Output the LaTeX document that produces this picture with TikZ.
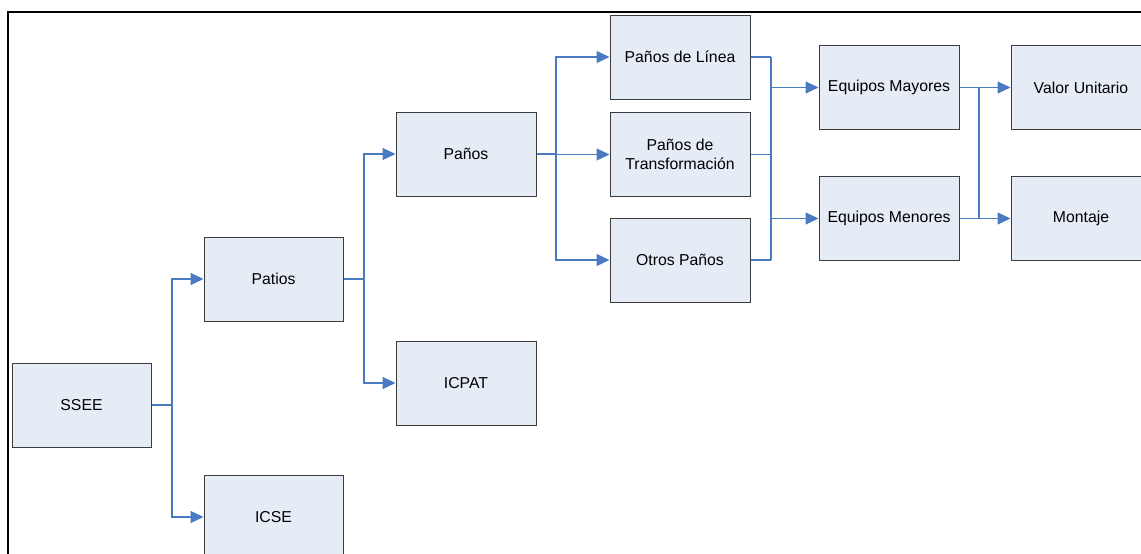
\documentclass[tikz,border=0pt]{standalone}
\usepackage{fontspec}
\setmainfont{Liberation Sans}
\usetikzlibrary{arrows.meta}
\definecolor{boxfill}{RGB}{230,236,246}
\definecolor{boxline}{RGB}{60,60,60}
\definecolor{conncol}{RGB}{74,122,194}
\begin{document}
\begin{tikzpicture}[x=1pt,y=-1pt,
  box/.style={draw=boxline,fill=boxfill,line width=1pt,minimum width=139pt,minimum height=84pt,inner sep=0pt,align=center,font=\fontsize{15.8}{19}\selectfont},
  link/.style={draw=conncol,line width=1.2pt},
  arr/.style={link,-{Triangle[length=13pt,width=12pt]}}]
\useasboundingbox (0,0) rectangle (1141,554);
\clip (0,0) rectangle (1141,554);
\draw[line width=2pt] (8,554) -- (8,12) -- (1141,12);
% nodes
\node[box] (ssee) at (81.5,405) {SSEE};
\node[box] (patios) at (273.5,279) {Patios};
\node[box] (icse) at (273.5,517) {ICSE};
\node[box,minimum width=140pt] (panos) at (466,154) {Paños};
\node[box,minimum width=140pt] (icpat) at (466,383) {ICPAT};
\node[box,minimum width=140pt] (pl) at (680,57) {Paños de Línea};
\node[box,minimum width=140pt] (pt) at (680,154.5) {Paños de\\Transformación};
\node[box,minimum width=140pt] (op) at (680,260) {Otros Paños};
\node[box,minimum width=140pt] (emay) at (889,87.5) {Equipos Mayores};
\node[box,minimum width=140pt] (emen) at (889,218.5) {Equipos Menores};
\node[box,minimum width=140pt] (vu) at (1081,87.5) {Valor Unitario};
\node[box,minimum width=140pt] (mon) at (1081,218.5) {Montaje};
% buses
\coordinate (b1) at (172,405);
\coordinate (b2) at (364,279);
\coordinate (b3) at (556,154);
\coordinate (b4) at (771,0);
\coordinate (b5) at (979,0);
% connectors
\draw[link] (ssee.east) -- (b1);
\draw[arr] (b1) |- (patios.west);
\draw[arr] (b1) |- (icse.west);
\draw[link] (patios.east) -- (b2);
\draw[arr] (b2) |- (panos.west);
\draw[arr] (b2) |- (icpat.west);
\draw[link] (panos.east) -- (b3);
\draw[arr] (b3) |- (pl.west);
\draw[arr] (b3) |- (pt.west);
\draw[arr] (b3) |- (op.west);
\draw[link] (pl.east) -- (pl.east -| b4);
\draw[link] (pt.east) -- (pt.east -| b4);
\draw[link] (op.east) -- (op.east -| b4);
\draw[link] (pl.east -| b4) -- (op.east -| b4);
\draw[arr] (emay.west -| b4) -- (emay.west);
\draw[arr] (emen.west -| b4) -- (emen.west);
\draw[link] (emay.east) -- (emay.east -| b5);
\draw[link] (emen.east) -- (emen.east -| b5);
\draw[link] (emay.east -| b5) -- (emen.east -| b5);
\draw[arr] (emay.east -| b5) -- (vu.west);
\draw[arr] (emen.east -| b5) -- (mon.west);
\end{tikzpicture}
\end{document}
